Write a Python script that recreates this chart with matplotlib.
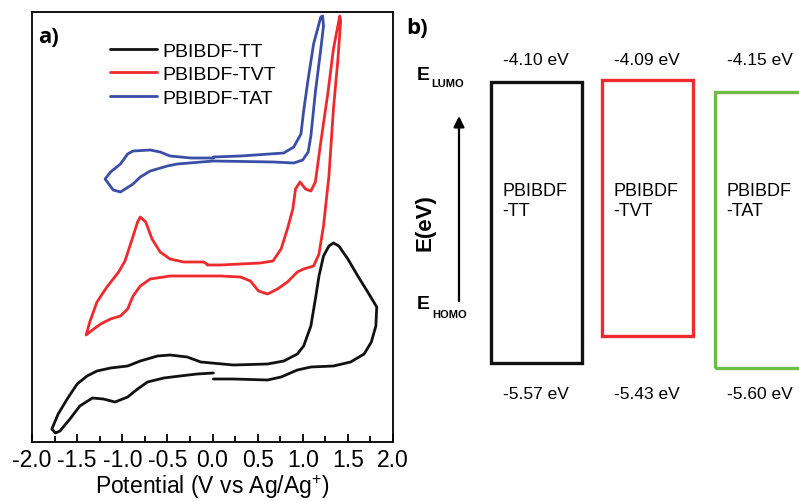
import matplotlib
matplotlib.use("Agg")
import matplotlib.pyplot as plt
from matplotlib.patches import Rectangle
from matplotlib.ticker import MultipleLocator

plt.rcParams['font.family'] = ['Liberation Sans', 'DejaVu Sans']
plt.rcParams['mathtext.fontset'] = 'custom'
plt.rcParams['mathtext.rm'] = 'Liberation Sans'

# ---- cyclic voltammograms (potential in V, current in a.u.) ----
tt_v = [0.01, 0.23, 0.61, 0.76, 0.94, 1.09, 1.34, 1.53, 1.68, 1.76, 1.81, 1.82,
        1.72, 1.61, 1.50, 1.40, 1.34, 1.29, 1.23, 1.18, 1.14, 1.09, 1.01, 0.94,
        0.79, 0.61, 0.23, -0.13, -0.28, -0.47, -0.61, -0.80, -0.94, -1.13, -1.28,
        -1.39, -1.50, -1.61, -1.71, -1.78, -1.74, -1.69, -1.58, -1.47, -1.33,
        -1.21, -1.08, -0.94, -0.83, -0.72, -0.54, -0.36, -0.17, 0.01]
tt_i = [6.3, 6.3, 6.2, 6.5, 7.2, 7.5, 7.6, 8.0, 8.8, 10.0, 11.6, 13.5,
        15.0, 16.6, 18.3, 19.6, 19.9, 19.6, 18.6, 16.6, 14.3, 11.6, 9.6, 8.8,
        8.1, 7.8, 7.7, 8.0, 8.5, 8.7, 8.6, 8.1, 7.6, 7.4, 7.1,
        6.6, 5.8, 4.3, 2.8, 1.3, 0.9, 1.1, 2.3, 3.6, 4.4,
        4.3, 4.0, 4.5, 5.3, 6.0, 6.4, 6.6, 6.8, 6.9]

tvt_v = [-0.06, 0.09, 0.53, 0.67, 0.76, 0.83, 0.89, 0.92, 0.97, 1.03, 1.09, 1.14,
         1.20, 1.28, 1.34, 1.41, 1.42, 1.39, 1.34, 1.29, 1.23, 1.18, 1.12, 1.01,
         0.94, 0.83, 0.72, 0.61, 0.51, 0.42, 0.31, 0.09, -0.47, -0.69, -0.80,
         -0.88, -0.94, -1.02, -1.13, -1.24, -1.36, -1.40, -1.36, -1.28, -1.17,
         -1.04, -0.97, -0.89, -0.83, -0.80, -0.74, -0.67, -0.58, -0.47, -0.32,
         -0.10, -0.06]
tvt_i = [17.7, 17.7, 17.9, 18.1, 19.3, 21.3, 23.3, 25.3, 26.0, 25.3, 25.1, 26.0,
         30.0, 35.0, 39.3, 42.6, 42.1, 38.3, 33.3, 26.6, 21.6, 18.8, 17.6, 17.3,
         17.0, 16.0, 15.3, 14.8, 15.1, 16.1, 16.5, 16.6, 16.6, 16.3, 15.6,
         14.6, 13.3, 12.6, 12.3, 11.8, 11.0, 10.7, 12.0, 14.0, 15.5,
         17.0, 18.1, 20.3, 22.0, 22.5, 22.0, 20.3, 19.0, 18.3, 18.0,
         18.0, 17.8]

tat_v = [0.01, 0.31, 0.79, 0.90, 0.98, 1.01, 1.06, 1.12, 1.20, 1.22, 1.23, 1.20,
         1.14, 1.09, 1.06, 1.00, 0.90, 0.68, 0.01, -0.39, -0.50, -0.69, -0.80,
         -0.88, -1.02, -1.10, -1.19, -1.13, -1.02, -0.94, -0.88, -0.69, -0.58,
         -0.47, -0.24, 0.01]
tat_i = [28.5, 28.6, 28.9, 29.5, 30.8, 33.1, 36.3, 39.8, 42.5, 42.6, 41.6, 39.3,
         35.0, 30.6, 29.0, 28.2, 27.9, 28.0, 28.1, 27.8, 27.6, 27.1, 26.5,
         25.8, 25.0, 25.2, 26.3, 27.0, 27.8, 28.8, 29.1, 29.2, 29.0,
         28.6, 28.4, 28.4]

names = ['PBIBDF-TT', 'PBIBDF-TVT', 'PBIBDF-TAT']

# ---- energy levels (eV) ----
box_names = ['PBIBDF\n-TT', 'PBIBDF\n-TVT', 'PBIBDF\n-TAT']
lumo = [-4.10, -4.09, -4.15]
homo = [-5.57, -5.43, -5.60]
box_colors = ['#111111', '#ee2a2e', '#6bbd45']

fig = plt.figure(figsize=(7.99, 5.02), dpi=100)

# panel a
ax = fig.add_axes([32 / 799, 59 / 502, 361 / 799, 430 / 502])
line_kw = dict(lw=2.0, solid_joinstyle='round', solid_capstyle='round')
ax.plot(tt_v, tt_i, color='#111111', label=names[0], **line_kw)
ax.plot(tvt_v, tvt_i, color='#ee2a2e', label=names[1], **line_kw)
ax.plot(tat_v, tat_i, color='#3a4ea6', label=names[2], **line_kw)
ax.set_xlim(-2, 2)
ax.set_ylim(0, 43)
ax.xaxis.set_major_locator(MultipleLocator(0.5))
ax.xaxis.set_minor_locator(MultipleLocator(0.25))
ax.tick_params(axis='x', which='both', direction='in', top=False, width=1.3)
ax.tick_params(axis='x', which='major', length=6, labelsize=16.5, pad=4)
ax.tick_params(axis='x', which='minor', length=4)
ax.set_xticklabels([f'{t:.1f}' for t in ax.get_xticks()])
ax.set_yticks([])
for s in ax.spines.values():
    s.set_linewidth(1.3)
ax.set_xlabel(r'Potential (V vs Ag/Ag$^{+}$)', fontsize=16.5, labelpad=1)
ax.text(0.017, 0.968, 'a)', transform=ax.transAxes, ha='left', va='top',
        fontsize=16, fontweight='bold', family='Open Sans')
ax.legend(loc='upper left', bbox_to_anchor=(0.216, 0.93), frameon=False,
          fontsize=14, handlelength=2.4, handletextpad=0.3, labelspacing=0.3,
          borderpad=0, borderaxespad=0)

# panel b
bx = fig.add_axes([400 / 799, 0, 399 / 799, 1])
bx.set_xlim(0, 399)
bx.set_ylim(-6.294, -3.665)
bx.axis('off')
centers = [136, 247, 360]
width = 91
for c, n, lo, hi, col in zip(centers, box_names, lumo, homo, box_colors):
    bx.add_patch(Rectangle((c - width / 2, hi), width, lo - hi, fill=False,
                           edgecolor=col, lw=2.4, joinstyle='miter'))
    bx.text(c, -3.98, f'{lo:.2f} eV', ha='center', va='center', fontsize=12.5)
    bx.text(c, -5.73, f'{hi:.2f} eV', ha='center', va='center', fontsize=12.5)
    bx.text(c - width / 2 + 12, -4.72, n, ha='left', va='center', fontsize=13,
            linespacing=1.2)

bx.text(0.015, 0.965, 'b)', transform=bx.transAxes, ha='left', va='top',
        fontsize=16, fontweight='bold', family='Open Sans')
bx.text(30, -4.058, 'E', ha='right', va='center', fontsize=14, fontweight='bold')
bx.text(31, -4.105, 'LUMO', ha='left', va='center', fontsize=8, fontweight='bold')
bx.text(30, -5.262, 'E', ha='right', va='center', fontsize=14, fontweight='bold')
bx.text(32, -5.315, 'HOMO', ha='left', va='center', fontsize=8, fontweight='bold')
bx.annotate('', xy=(59, -4.278), xytext=(59, -5.247),
            arrowprops=dict(arrowstyle='-|>', lw=1.6, color='black',
                            mutation_scale=16, shrinkA=0, shrinkB=0))
bx.text(25, -4.83, 'E(eV)', rotation=90, ha='center', va='center',
        fontsize=16, fontweight='bold')

fig.savefig('out.png', dpi=100)
